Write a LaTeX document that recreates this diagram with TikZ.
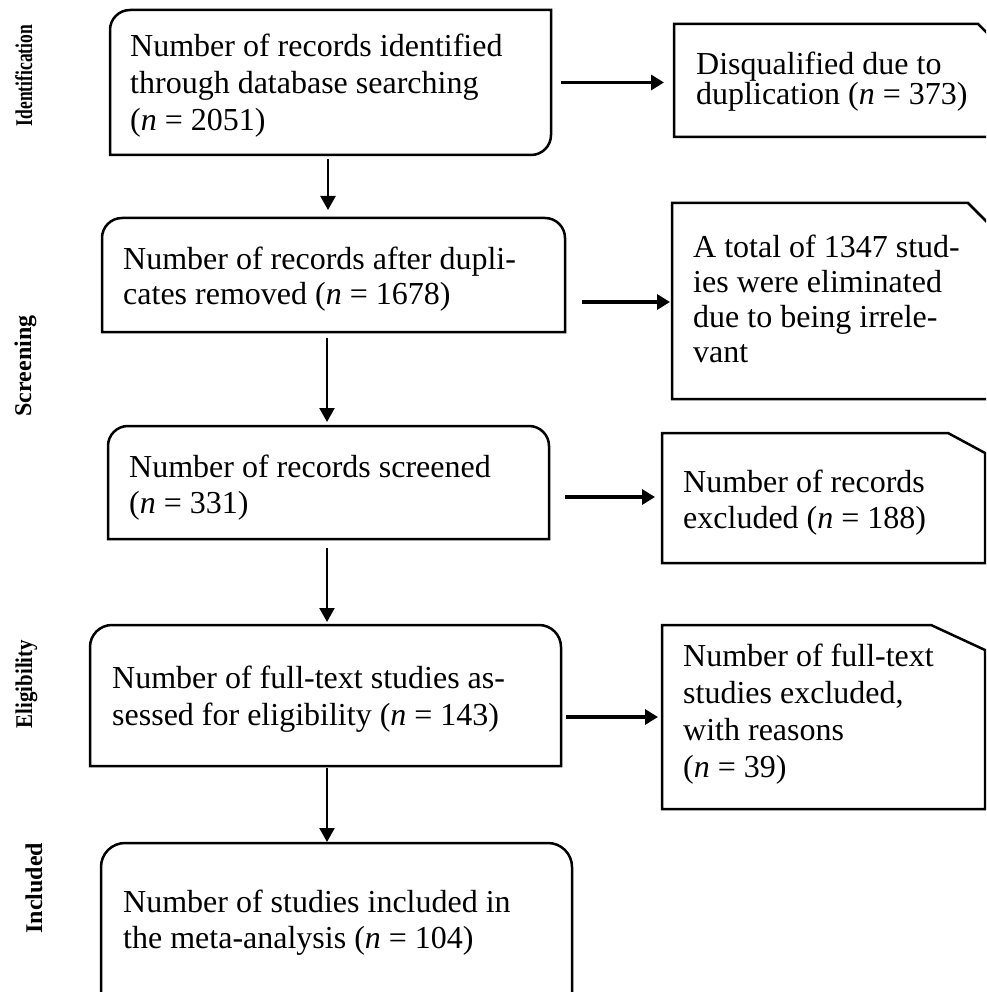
\documentclass[tikz,border=0pt]{standalone}
\usepackage{fontspec}
\setmainfont{Liberation Serif}
\usetikzlibrary{arrows.meta}
\begin{document}
\begin{tikzpicture}[x=1pt,y=1pt]
\tikzset{
  frame/.style={draw=none, inner sep=0pt, outer sep=0pt, anchor=north west},
  outline/.style={draw=black, line width=2.5pt, line join=miter},
  txt/.style={anchor=base west, align=left, inner sep=0pt},
  stage/.style={rotate=90, anchor=base, inner sep=0pt, font=\fontsize{24}{28}\selectfont\bfseries},
  harr/.style={line width=3.4pt, -{Triangle[length=13pt,width=15pt]}},
  varr/.style={line width=2.3pt, -{Triangle[length=14pt,width=15pt]}},
}
\useasboundingbox (0,0) rectangle (986,-992);
\clip (0,0) rectangle (986,-992);

% left boxes (frames)
\node[frame, minimum width=441pt, minimum height=145pt] (b1) at (110,-10) {};
\node[frame, minimum width=463pt, minimum height=114pt] (b2) at (102,-218) {};
\node[frame, minimum width=441pt, minimum height=113pt] (b3) at (108,-426) {};
\node[frame, minimum width=471pt, minimum height=141pt] (b4) at (90,-625) {};
\node[frame, minimum width=471pt, minimum height=170pt] (b5) at (101,-843) {};
% right boxes (frames)
\node[frame, minimum width=324pt, minimum height=113pt] (bA) at (674,-24) {};
\node[frame, minimum width=328pt, minimum height=196pt] (bB) at (672,-203) {};
\node[frame, minimum width=323pt, minimum height=130pt] (bC) at (662,-433) {};
\node[frame, minimum width=323pt, minimum height=184pt] (bD) at (662,-625) {};

% outlines
\draw[outline] (b1.south west) -- ([yshift=-20pt]b1.north west)
  arc[start angle=180,end angle=90,radius=20pt] -- (b1.north east)
  -- ([yshift=20pt]b1.south east) arc[start angle=0,end angle=-90,radius=20pt] -- cycle;
\draw[outline] (b2.south west) -- ([yshift=-20pt]b2.north west)
  arc[start angle=180,end angle=90,radius=20pt] -- ([xshift=-20pt]b2.north east)
  arc[start angle=90,end angle=0,radius=20pt] -- (b2.south east) -- cycle;
\draw[outline] (b3.south west) -- ([yshift=-20pt]b3.north west)
  arc[start angle=180,end angle=90,radius=20pt] -- ([xshift=-20pt]b3.north east)
  arc[start angle=90,end angle=0,radius=20pt] -- (b3.south east) -- cycle;
\draw[outline] (b4.south west) -- ([yshift=-22pt]b4.north west)
  arc[start angle=180,end angle=90,radius=22pt] -- ([xshift=-22pt]b4.north east)
  arc[start angle=90,end angle=0,radius=22pt] -- (b4.south east) -- cycle;
\draw[outline] (b5.south west) -- ([yshift=-24pt]b5.north west)
  arc[start angle=180,end angle=90,radius=24pt] -- ([xshift=-24pt]b5.north east)
  arc[start angle=90,end angle=0,radius=24pt] -- (b5.south east) -- cycle;

\draw[outline] (bA.south west) -- (bA.north west) -- ([xshift=-20pt]bA.north east)
  -- ([yshift=-20pt]bA.north east) -- (bA.south east) -- cycle;
\draw[outline] (bB.south west) -- (bB.north west) -- ([xshift=-32pt]bB.north east)
  -- ([yshift=-32pt]bB.north east) -- (bB.south east) -- cycle;
\draw[outline] (bC.south west) -- (bC.north west) -- ([xshift=-37pt]bC.north east)
  -- ([yshift=-20pt]bC.north east) -- (bC.south east) -- cycle;
\draw[outline] (bD.south west) -- (bD.north west) -- ([xshift=-54pt]bD.north east)
  -- ([yshift=-25pt]bD.north east) -- (bD.south east) -- cycle;

% texts (anchor = baseline of the last line)
\node[txt, font=\fontsize{32}{37}\selectfont] (t1) at (130,-131)
  {Number of records identified\\through database searching\\(\textit{n} = 2051)};
\node[txt, font=\fontsize{32}{35}\selectfont] (t2) at (123,-304)
  {Number of records after dupli-\\cates removed (\textit{n} = 1678)};
\node[txt, font=\fontsize{32}{36}\selectfont] (t3) at (129,-513)
  {Number of records screened\\(\textit{n} = 331)};
\node[txt, font=\fontsize{32}{37}\selectfont] (t4) at (112,-725)
  {Number of full-text studies as-\\sessed for eligibility (\textit{n} = 143)};
\node[txt, font=\fontsize{32}{36}\selectfont] (t5) at (123,-948)
  {Number of studies included in\\the meta-analysis (\textit{n} = 104)};
\node[txt, font=\fontsize{32}{30}\selectfont] (tA) at (696,-105)
  {Disqualified due to\\duplication (\textit{n} = 373)};
\node[txt, font=\fontsize{32}{35}\selectfont] (tB) at (693,-362)
  {A total of 1347 stud-\\ies were eliminated\\due to being irrele-\\vant};
\node[txt, font=\fontsize{32}{36}\selectfont] (tC) at (683,-528)
  {Number of records\\excluded (\textit{n} = 188)};
\node[txt, font=\fontsize{32}{36.7}\selectfont] (tD) at (683,-777)
  {Number of full-text\\studies excluded,\\with reasons\\(\textit{n} = 39)};

% stage labels
\node[stage] (s1) at (32,-75.5) {\scalebox{0.73}[1]{Identification}};
\node[stage] (s2) at (31,-366) {Screening};
\node[stage] (s3) at (32,-684) {\scalebox{0.87}[1]{Eligibility}};
\node[stage] (s4) at (42,-888) {Included};

% vertical connectors
\coordinate (v1) at (328,0);
\coordinate (v2) at (327,0);
\draw[varr, shorten <=4pt, shorten >=8pt] (b1.south -| v1) -- (b2.north -| v1);
\draw[varr, shorten <=6pt, shorten >=4pt] (b2.south -| v2) -- (b3.north -| v2);
\draw[varr, shorten <=9pt, shorten >=3pt] (b3.south -| v2) -- (b4.north -| v2);
\draw[varr, shorten <=2pt, shorten >=1pt] (b4.south -| v2) -- (b5.north -| v2);

% horizontal connectors
\coordinate (h2) at (0,-302);
\coordinate (h3) at (0,-497);
\coordinate (h4) at (0,-717);
\draw[harr, shorten <=10pt, shorten >=10pt] (b1.east) -- (b1.east -| bA.west);
\draw[harr, shorten <=17pt, shorten >=2pt] (h2 -| b2.east) -- (h2 -| bB.west);
\draw[harr, shorten <=16pt, shorten >=7pt] (h3 -| b3.east) -- (h3 -| bC.west);
\draw[harr, shorten <=5pt, shorten >=4pt] (h4 -| b4.east) -- (h4 -| bD.west);
\end{tikzpicture}
\end{document}
